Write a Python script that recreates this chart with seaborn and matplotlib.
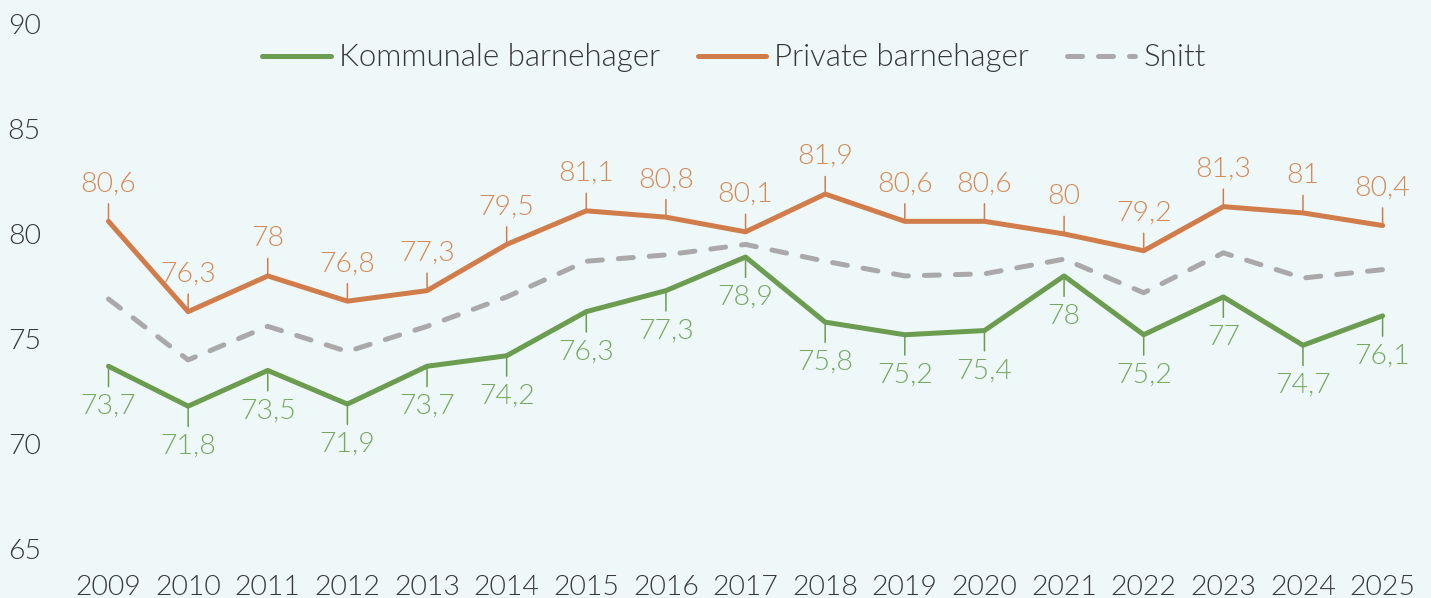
"""Kommunale vs private barnehager, 2009-2025."""
import matplotlib
matplotlib.use("Agg")
import matplotlib.pyplot as plt
import seaborn as sns

YEARS = list(range(2009, 2026))
KOMMUNALE = [73.7, 71.8, 73.5, 71.9, 73.7, 74.2, 76.3, 77.3, 78.9, 75.8, 75.2, 75.4, 78.0, 75.2, 77.0, 74.7, 76.1]
PRIVATE = [80.6, 76.3, 78.0, 76.8, 77.3, 79.5, 81.1, 80.8, 80.1, 81.9, 80.6, 80.6, 80.0, 79.2, 81.3, 81.0, 80.4]
SNITT = [76.9, 74.0, 75.6, 74.4, 75.6, 77.0, 78.7, 79.0, 79.5, 78.7, 78.0, 78.1, 78.8, 77.2, 79.1, 77.9, 78.3]
Y_TICKS = [65, 70, 75, 80, 85, 90]

BG = "#eef8f9"
GREEN = "#6b9c50"
GREEN_LABEL = "#78a862"
ORANGE = "#d17d4b"
ORANGE_LABEL = "#d68a58"
GREY = "#a9a9a9"
TEXT = "#383838"
FS = 20.5


def fmt(v):
    s = f"{v:.1f}".replace(".", ",")
    return s[:-2] if s.endswith(",0") else s


def main():
    sns.set_theme(style="white")
    plt.rcParams["font.family"] = ["Lato", "DejaVu Sans"]
    plt.rcParams["font.weight"] = 300

    fig = plt.figure(figsize=(14.31, 5.98), dpi=100, facecolor=BG)
    ax = fig.add_axes([0.048, 0.082, 0.946, 0.878], facecolor=BG)

    sns.lineplot(x=YEARS, y=KOMMUNALE, ax=ax, color=GREEN, lw=3.6,
                 label="Kommunale barnehager", solid_capstyle="round")
    sns.lineplot(x=YEARS, y=PRIVATE, ax=ax, color=ORANGE, lw=3.6,
                 label="Private barnehager", solid_capstyle="round")
    sns.lineplot(x=YEARS, y=SNITT, ax=ax, color=GREY, lw=3.6, label="Snitt",
                 dashes=False)
    ax.lines[-1].set_dashes((3.0, 3.2))
    ax.lines[-1].set_dash_capstyle("round")

    for x, v in zip(YEARS, PRIVATE):
        ax.annotate(fmt(v), xy=(x, v), xytext=(0, 27), textcoords="offset points",
                    ha="center", va="center", fontsize=FS, color=ORANGE_LABEL,
                    arrowprops=dict(arrowstyle="-", color=ORANGE, lw=1.1,
                                    shrinkA=3, shrinkB=0))
    for x, v in zip(YEARS, KOMMUNALE):
        ax.annotate(fmt(v), xy=(x, v), xytext=(0, -29), textcoords="offset points",
                    ha="center", va="center", fontsize=FS, color=GREEN_LABEL,
                    arrowprops=dict(arrowstyle="-", color=GREEN, lw=1.1,
                                    shrinkA=3, shrinkB=0))

    ax.set_xlim(2008.5, 2025.5)
    ax.set_ylim(65, 90)
    ax.set_xticks(YEARS)
    ax.set_yticks(Y_TICKS)
    ax.tick_params(axis="both", length=0, labelsize=FS, labelcolor=TEXT)
    ax.tick_params(axis="y", pad=20)
    ax.tick_params(axis="x", pad=19)
    sns.despine(ax=ax, left=True, bottom=True)

    ax.get_legend().remove()
    handles, labels = ax.get_legend_handles_labels()
    fig.legend(handles, labels, loc="center", bbox_to_anchor=(734 / 1431, 1 - 58 / 598),
               ncol=3, frameon=False, fontsize=22.5, labelcolor=TEXT,
               handlelength=2.2, handletextpad=0.25, columnspacing=1.2)

    fig.savefig("out.png", dpi=100, facecolor=BG)


if __name__ == "__main__":
    main()
